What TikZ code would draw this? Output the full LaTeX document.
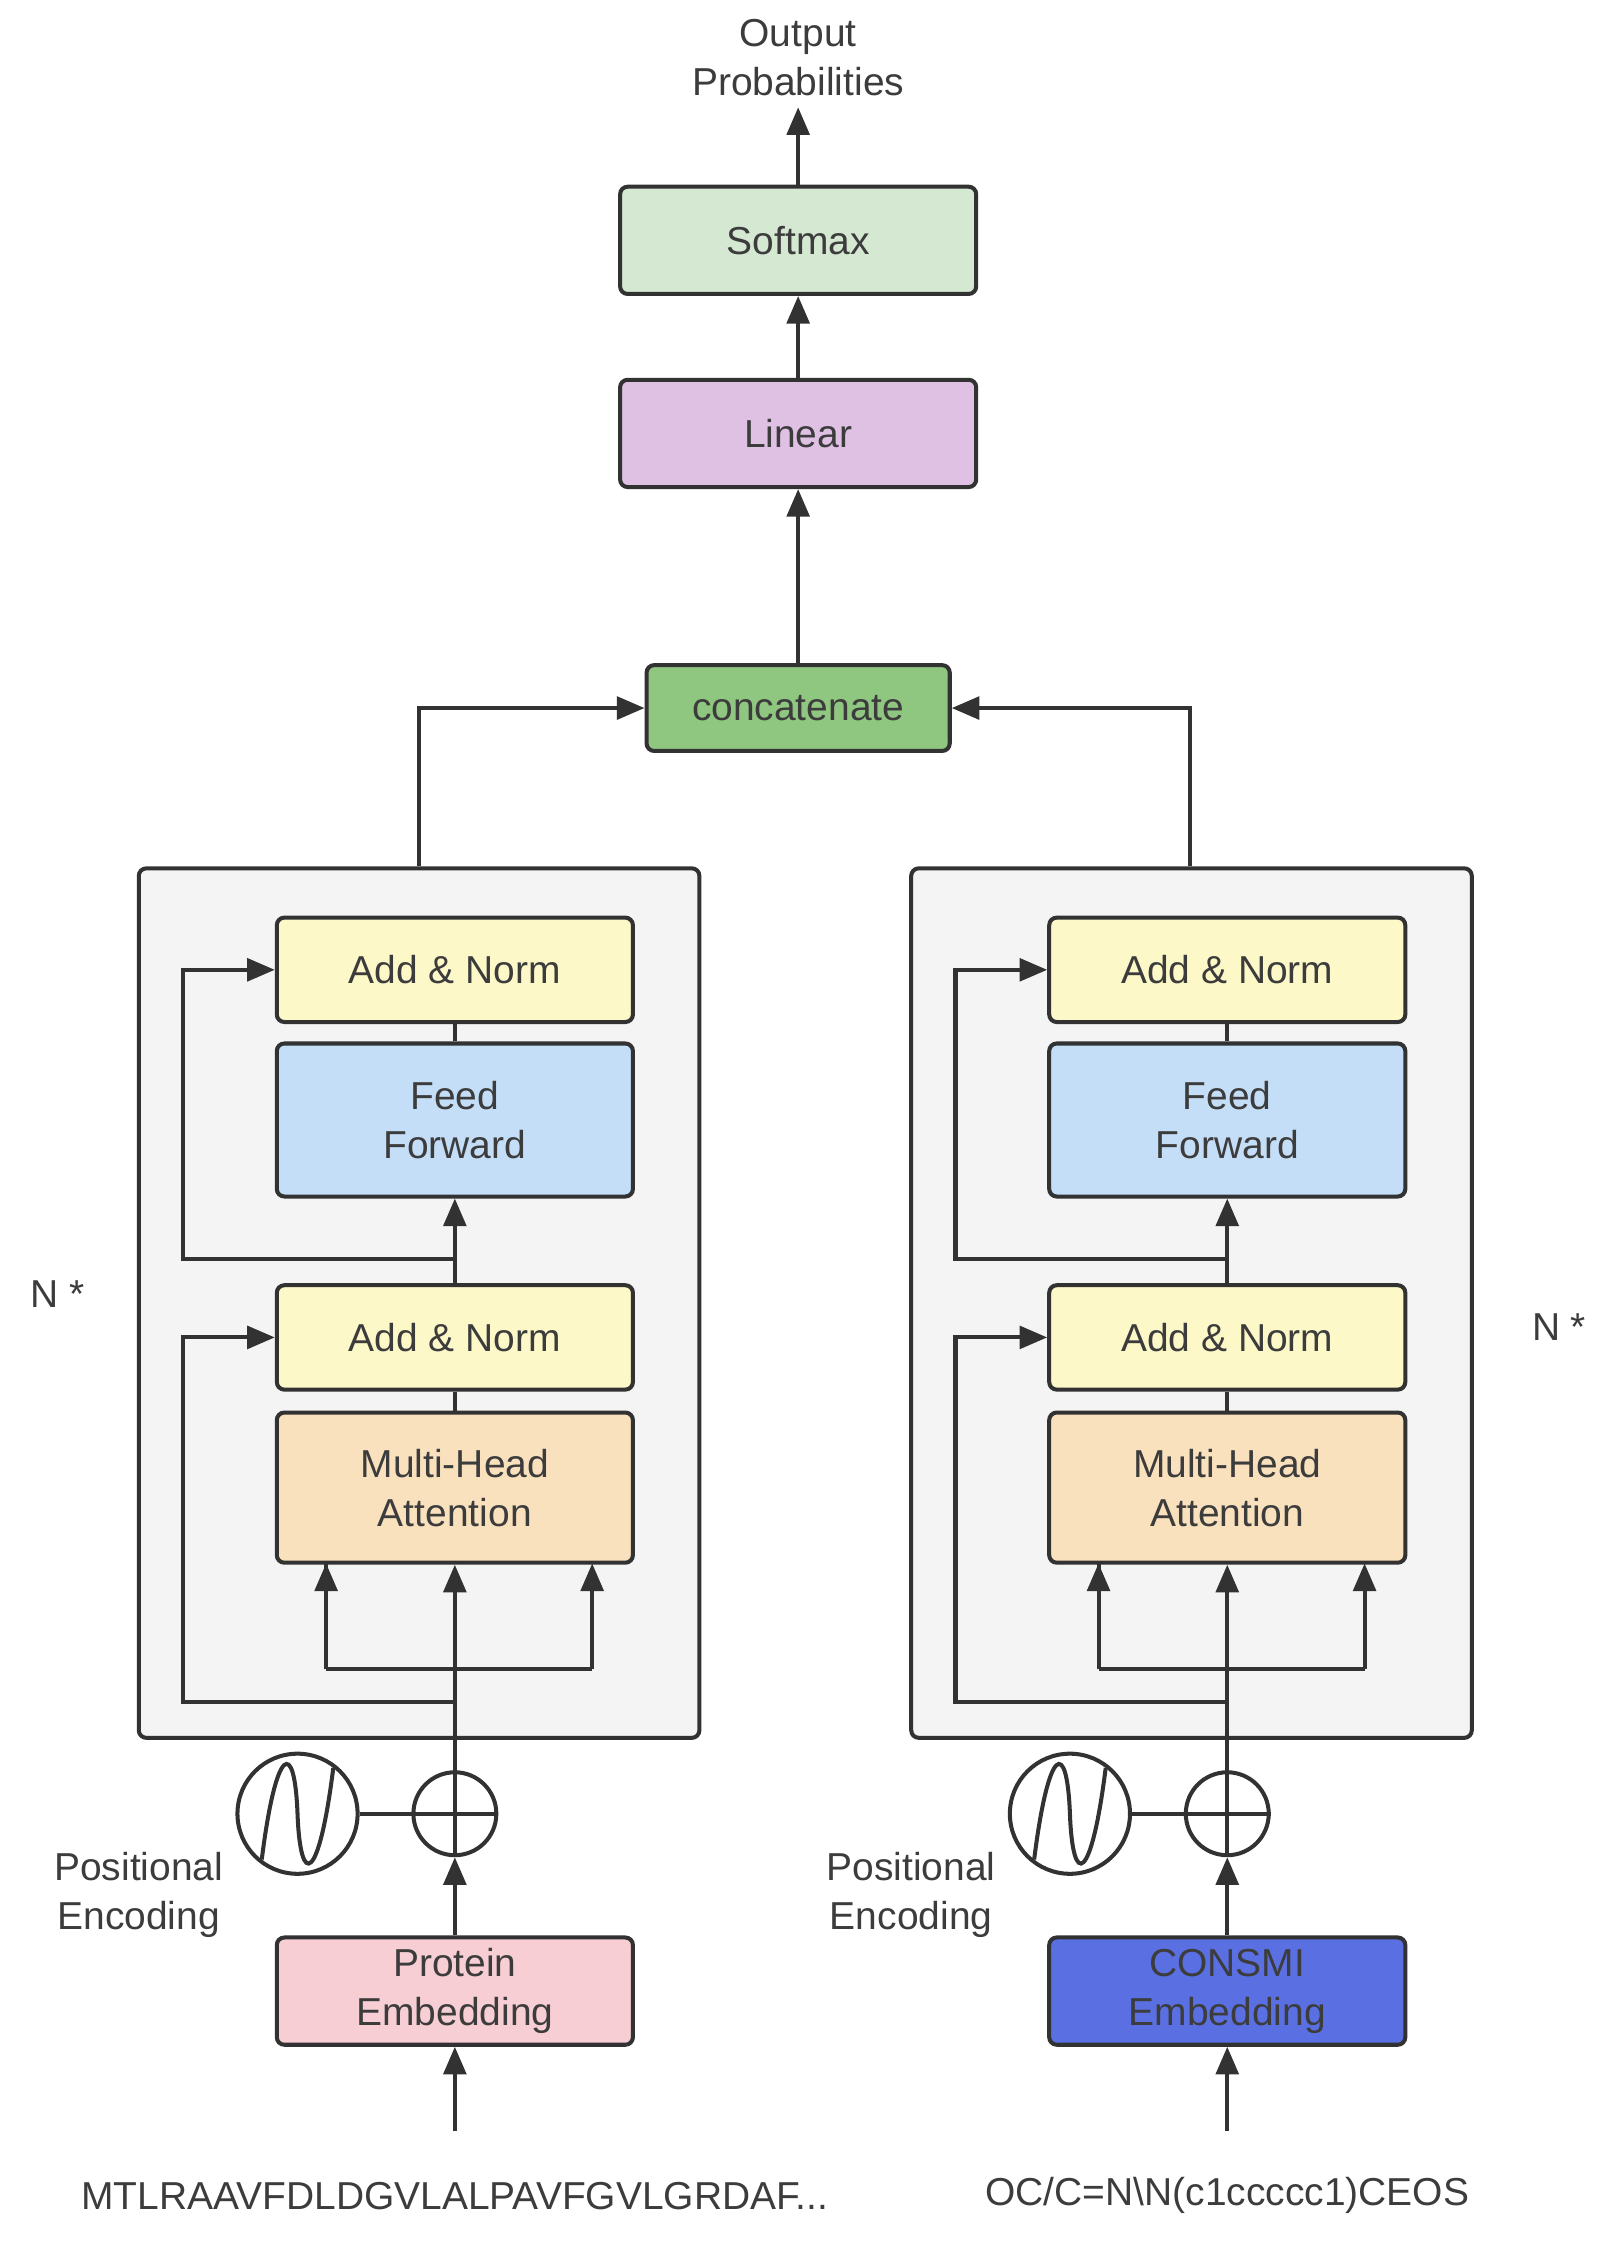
\documentclass[tikz,border=0pt]{standalone}
\usepackage{fontspec}
\setmainfont{Liberation Sans}
\usetikzlibrary{arrows.meta}
\begin{document}
\begin{tikzpicture}[x=0.02cm,y=-0.02cm,line width=1.6pt,draw={rgb,255:red,50;green,50;blue,50},
  font=\fontsize{15.5}{19.5}\selectfont, text={rgb,255:red,60;green,60;blue,60}]
\tikzset{block/.style = {draw, rounded corners=3pt, minimum width=4.98cm, align=center}}
\tikzset{edge/.style = {-{Triangle[length=11pt,width=9pt]}}}
\tikzset{line/.style = {}}
\definecolor{softc}{RGB}{212,232,210}
\definecolor{linc}{RGB}{223,193,228}
\definecolor{catc}{RGB}{143,198,128}
\definecolor{boxc}{RGB}{244,244,245}
\definecolor{addc}{RGB}{253,248,200}
\definecolor{ffc}{RGB}{196,222,247}
\definecolor{mhc}{RGB}{250,225,190}
\definecolor{protc}{RGB}{246,206,212}
\definecolor{consc}{RGB}{90,112,226}

\useasboundingbox (0,0) rectangle (1130,1580);

% top part
\node (out) at (558,40) [align=center] {Output\\Probabilities};
\node[block, fill=softc, minimum height=1.5cm] (soft) at (558,168) {Softmax};
\node[block, fill=linc, minimum height=1.5cm] (lin) at (558,303) {Linear};
\node[block, fill=catc, minimum width=4.24cm, minimum height=1.2cm] (cat) at (558,495) {concatenate};
\draw[edge] (soft.north) -- (558,75);
\draw[edge] (lin) -- (soft);
\draw[edge] (cat) -- (lin);

% encoders
\foreach \c/\s/\nx/\ny/\emb/\ec/\seq in {318/L/40/905/{Protein\\Embedding}/protc/{MTLRAAVFDLDGVLALPAVFGVLGRDAF...},
                                         858/R/1090/928/{CONSMI\\Embedding}/consc/{OC/C=N\textbackslash N(c1ccccc1)CEOS}}{
  \node[draw, rounded corners=3pt, fill=boxc, minimum width=7.84cm, minimum height=12.16cm] (box\s) at (\c-25,911) {};
  \node[block, fill=addc, minimum height=1.46cm] (an1\s) at (\c,678) {Add \& Norm};
  \node[block, fill=ffc, minimum height=2.14cm] (ff\s) at (\c,783) {Feed\\Forward};
  \node[block, fill=addc, minimum height=1.46cm] (an2\s) at (\c,935) {Add \& Norm};
  \node[block, fill=mhc, minimum height=2.1cm] (mh\s) at (\c,1040) {Multi-Head\\Attention};
  \node[draw, circle, minimum size=1.16cm] (plus\s) at (\c,1268) {};
  \draw (plus\s.north) -- (plus\s.south) (plus\s.west) -- (plus\s.east);
  \node[draw, circle, minimum size=1.68cm] (sin\s) at (\c-110,1268) {};
  \draw (\c-135,1300) .. controls (\c-125,1220) and (\c-112,1215) .. (\c-110,1268)
        .. controls (\c-108,1321) and (\c-95,1316) .. (\c-85,1236);
  \node[align=center] (pe\s) at (\c-221,1325) {Positional\\Encoding};
  \node[block, fill=\ec, minimum height=1.5cm] (emb\s) at (\c,1392) {\emb};
  \node (seq\s) at (\c,1535) {\seq};
  \node (n\s) at (\nx,\ny) {N *};
  \coordinate (in\s) at (\c,1490);
  % connectors
  \draw[edge] (in\s) -- (emb\s);
  \draw[edge] (emb\s) -- (plus\s);
  \draw (sin\s) -- (plus\s);
  \draw (plus\s) -- (\c,1167);
  \draw[edge] (\c,1167) -- (mh\s);
  \draw[edge] (\c-90,1167) -- (\c+96,1167) (\c-90,1167) -- (\c-90,1093);
  \draw[edge] (\c+96,1167) -- (\c+96,1093);
  \draw (\c-90,1167) -- (\c-90,1093);
  \draw[edge] (\c,1190) -- (\c-190,1190) -- (\c-190,935) -- (an2\s);
  \draw (mh\s) -- (an2\s);
  \draw[edge] (an2\s) -- (ff\s);
  \draw[edge] (\c,880) -- (\c-190,880) -- (\c-190,678) -- (an1\s);
  \draw (ff\s) -- (an1\s);
}
\draw[edge] (boxL.north -| 293,0) -- (293,495) -- (cat.west);
\draw[edge] (boxR.north -| 832,0) -- (832,495) -- (cat.east);
\end{tikzpicture}
\end{document}
